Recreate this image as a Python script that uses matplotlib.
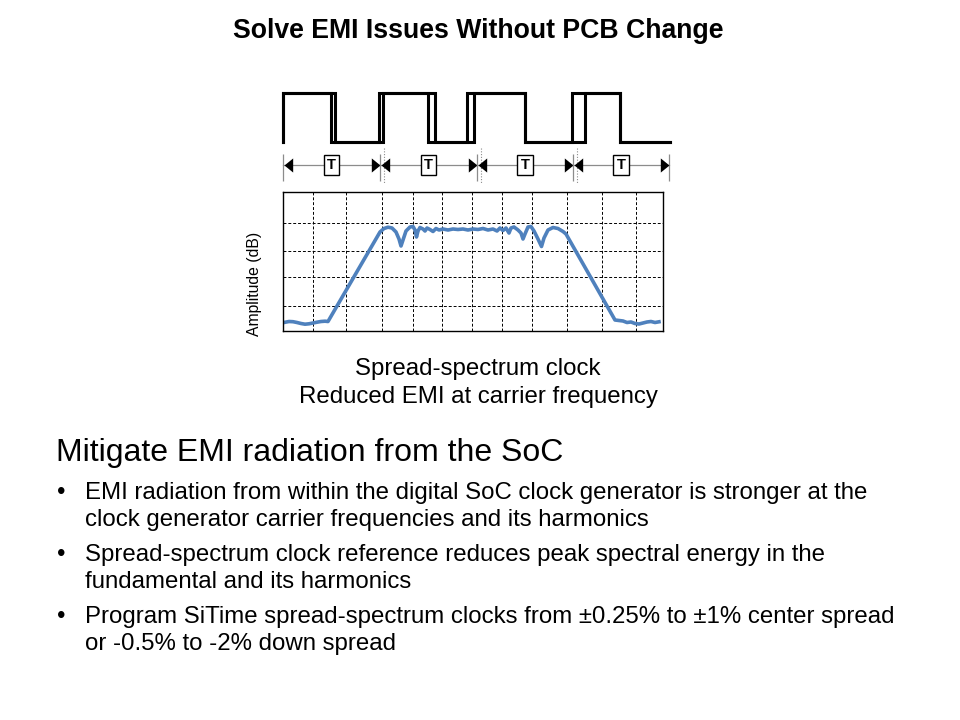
#!/usr/bin/env python3
"""Slide: spread-spectrum clock waveform + spectrum, with bullet text."""

import matplotlib
matplotlib.use("Agg")
import matplotlib.pyplot as plt
import numpy as np

plt.rcParams["font.family"] = ["Liberation Sans", "DejaVu Sans"]

# clock traces: edge positions (two overlaid traces, jittered edges)
EDGES_A = [283, 331, 379, 428, 467, 525, 572, 620]
EDGES_B = [283, 335, 383, 435, 474, 525, 585, 620]
WAVE_END = 670
WAVE_HIGH, WAVE_LOW = 92.5, 142
PERIOD_BOUNDS = [283, 380, 477, 573, 669]

# spectrum trace (arbitrary freq units, amplitude in arbitrary dB units)
SPEC_X = [2, 6, 10, 14, 18, 22, 26, 30, 34, 38, 42, 45,
          97, 101, 105, 109, 113, 116, 118, 120, 123, 127, 130, 132, 133.5,
          135, 137, 140, 142, 144, 147, 150, 153, 156, 160, 165, 170, 175,
          180, 185, 190, 195, 200, 205, 210, 214, 217, 220, 223, 226, 228,
          231, 235, 238, 240, 242, 245, 248, 251, 255, 258.5, 261, 265, 270,
          275, 280, 283,
          332, 336, 340, 344, 348, 352, 356, 360, 364, 368, 372, 376]
SPEC_Y = [8.7, 9.5, 9.3, 8.5, 7.5, 6.8, 7.2, 8.0, 8.8, 9.5, 9.8, 9.5,
          99, 102.5, 103.8, 103, 99, 92, 85, 91, 100, 104, 104.5, 101, 94,
          100, 103.5, 102, 100, 103, 101.5, 99.5, 102.5, 101, 102, 101, 102, 101.5,
          102, 101, 102, 101.5, 102.5, 101, 102, 100, 103, 100.5, 103, 98, 103,
          104, 101, 98, 92, 97, 104, 104.5, 100, 92, 84.5, 93, 101, 103.5,
          102.5, 99.5, 97,
          11, 10.5, 10, 8.5, 9, 7.5, 7, 8, 9, 9.5, 8.5, 9.2]
GRID_X = [30, 63, 99, 130, 159, 189, 219, 249, 284, 319, 353]
GRID_Y = [25, 54, 80, 108]

TITLE = "Solve EMI Issues Without PCB Change"
CAPTION = ["Spread-spectrum clock", "Reduced EMI at carrier frequency"]
HEADING = "Mitigate EMI radiation from the SoC"
BULLETS = [
    ["EMI radiation from within the digital SoC clock generator is stronger at the",
     "clock generator carrier frequencies and its harmonics"],
    ["Spread-spectrum clock reference reduces peak spectral energy in the",
     "fundamental and its harmonics"],
    ["Program SiTime spread-spectrum clocks from \u00b10.25% to \u00b11% center spread",
     "or -0.5% to -2% down spread"],
]


def step_trace(edges, end):
    xs = np.repeat(edges, 2)
    levels = []
    state = WAVE_LOW
    for _ in edges:
        nxt = WAVE_HIGH if state == WAVE_LOW else WAVE_LOW
        levels += [state, nxt]
        state = nxt
    return np.append(xs, end), np.append(levels, state)


fig = plt.figure(figsize=(9.6, 7.2), dpi=100)
W, H = 960, 720

# overlay in pixel coordinates for the waveform sketch
ov = fig.add_axes([0, 0, 1, 1])
ov.set_xlim(0, W)
ov.set_ylim(H, 0)
ov.axis("off")

for edges in (EDGES_A, EDGES_B):
    xs, ys = step_trace(edges, WAVE_END)
    ov.plot(xs, ys, color="black", lw=2.2, solid_joinstyle="miter")

arrow_y = 165
left_head = [(0, 0), (8, 6.5), (8, -6.5), (0, 0)]
right_head = [(0, 0), (-8, 6.5), (-8, -6.5), (0, 0)]
ov.vlines(PERIOD_BOUNDS, 154, 181, color="#8c8c8c", lw=0.9)
ov.vlines(np.array(PERIOD_BOUNDS[1:-1]) + 4, 148, 184, color="#8c8c8c", lw=0.8,
          linestyles=(0, (1, 1.5)))
for a, b in zip(PERIOD_BOUNDS[:-1], PERIOD_BOUNDS[1:]):
    ov.plot([a, b], [arrow_y, arrow_y], color="#8c8c8c", lw=0.9)
    ov.plot(a + 0.5, arrow_y, marker=left_head, ms=12.5, color="black", mew=0)
    ov.plot(b - 0.5, arrow_y, marker=right_head, ms=12.5, color="black", mew=0)
    ov.text((a + b) / 2, arrow_y, "T", fontsize=10.5, fontweight="bold",
            ha="center", va="center",
            bbox=dict(boxstyle="square,pad=0.22", fc="white", ec="black", lw=1.0))

# spectrum panel
ax = fig.add_axes([283 / W, 1 - 331 / H, 380 / W, 139 / H])
ax.set_xlim(0, 380)
ax.set_ylim(0, 139)
ax.set_xticks(GRID_X)
ax.set_yticks(GRID_Y)
ax.tick_params(length=0, labelbottom=False, labelleft=False)
ax.grid(True, color="black", lw=0.7, ls=(0, (3, 2)))
for s in ax.spines.values():
    s.set_linewidth(1.0)
    s.set_color("black")
ax.plot(SPEC_X, SPEC_Y, color="#4f81bd", lw=2.6, solid_joinstyle="round")

fig.text(255 / W, 1 - 284 / H, "Amplitude (dB)", rotation=90, fontsize=11.3,
         ha="center", va="center")

# text
fig.text(478 / W, 1 - 38.5 / H, TITLE, fontsize=19.2, fontweight="bold",
         ha="center", va="baseline")
for i, line in enumerate(CAPTION):
    fig.text(478 / W, 1 - (375 + 28 * i) / H, line, fontsize=17.3,
             ha="center", va="baseline")
fig.text(56 / W, 1 - 461 / H, HEADING, fontsize=23, ha="left", va="baseline")

y = 499
for lines in BULLETS:
    fig.text(57 / W, 1 - y / H, "\u2022", fontsize=17.3, ha="left", va="baseline")
    for j, line in enumerate(lines):
        fig.text(85 / W, 1 - (y + 27 * j) / H, line, fontsize=17.3,
                 ha="left", va="baseline")
    y += 62

fig.savefig("out.png", dpi=100)
